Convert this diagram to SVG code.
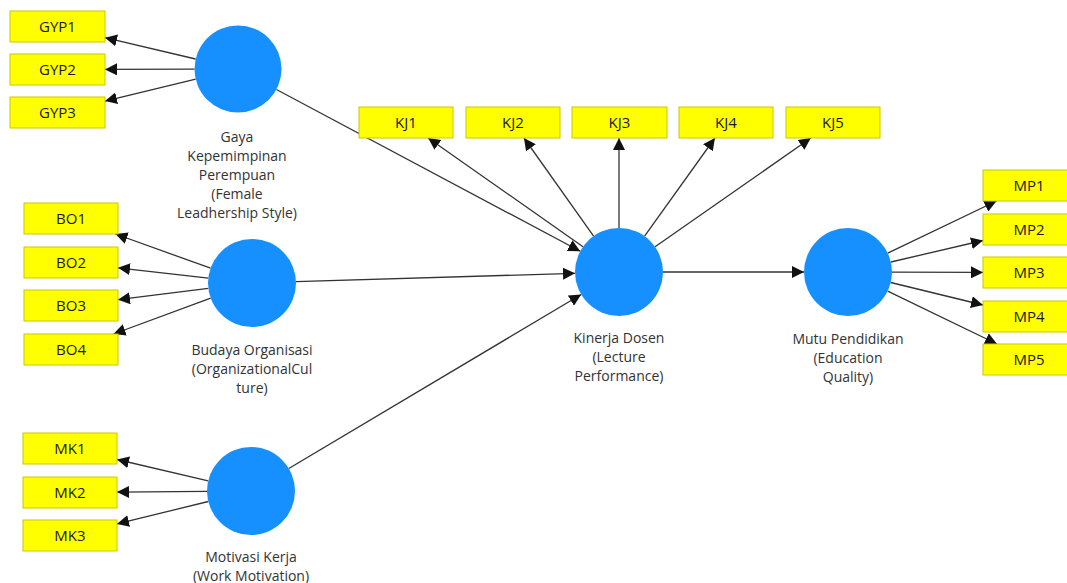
<svg xmlns="http://www.w3.org/2000/svg" width="1067" height="583" viewBox="0 0 1067 583">
<defs>
<style>
.ind rect{fill:#ffff00;stroke:#c9c900;stroke-width:1}
.ind text{font-family:"Open Sans","Liberation Sans",sans-serif;font-size:15px;fill:#1a1a1a;text-anchor:middle}
.lv circle{fill:#1690ff}
.lv text{font-family:"Open Sans","Liberation Sans",sans-serif;font-size:14px;fill:#333;text-anchor:middle}
#connectors line{stroke:#333;stroke-width:1.3;marker-end:url(#arr)}
</style>
<marker id="arr" markerUnits="userSpaceOnUse" markerWidth="12" markerHeight="12" refX="10" refY="5" orient="auto" viewBox="0 0 10 10">
<path d="M0,0 L10,5 L0,10 z" fill="#111"/>
</marker>
</defs>
<rect width="1067" height="583" fill="#ffffff"/>
<g id="connectors">
<line x1="195.6" y1="59.0" x2="105" y2="37.7"/>
<line x1="194.5" y1="69.1" x2="105" y2="69.4"/>
<line x1="195.7" y1="79.2" x2="105" y2="101.1"/>
<line x1="210.6" y1="268.2" x2="115.5" y2="234"/>
<line x1="208.3" y1="278.1" x2="118" y2="267.8"/>
<line x1="208.3" y1="288.4" x2="118" y2="299.7"/>
<line x1="210.7" y1="298.2" x2="113.5" y2="334"/>
<line x1="208.2" y1="480.9" x2="117" y2="459.5"/>
<line x1="207" y1="491.4" x2="117" y2="492.1"/>
<line x1="208.3" y1="501.5" x2="117" y2="523.9"/>
<line x1="583.0" y1="246.7" x2="428.1" y2="138"/>
<line x1="593.6" y1="236.1" x2="524.0" y2="138"/>
<line x1="619" y1="228" x2="619" y2="138"/>
<line x1="644.6" y1="236.2" x2="714.9" y2="138"/>
<line x1="655.1" y1="246.8" x2="810.8" y2="138"/>
<line x1="276.4" y1="89.5" x2="580.2" y2="251.3"/>
<line x1="296.0" y1="281.7" x2="575.0" y2="273.3"/>
<line x1="288.8" y1="468.5" x2="581.2" y2="294.5"/>
<line x1="663" y1="272" x2="804" y2="272"/>
<line x1="887.7" y1="253.1" x2="996.5" y2="201"/>
<line x1="890.9" y1="262.0" x2="983" y2="240.5"/>
<line x1="892" y1="272.1" x2="983" y2="272.4"/>
<line x1="890.7" y1="282.5" x2="983" y2="305.0"/>
<line x1="887.7" y1="291.1" x2="997" y2="344"/>
</g>
<g id="GYP1" class="ind"><rect x="10" y="11" width="95" height="31"/><text x="57.5" y="32">GYP1</text></g>
<g id="GYP2" class="ind"><rect x="10" y="54" width="95" height="31"/><text x="57.5" y="75">GYP2</text></g>
<g id="GYP3" class="ind"><rect x="10" y="97" width="95" height="31"/><text x="57.5" y="118">GYP3</text></g>
<g id="BO1" class="ind"><rect x="24" y="203" width="94" height="31"/><text x="71" y="224">BO1</text></g>
<g id="BO2" class="ind"><rect x="24" y="247" width="94" height="31"/><text x="71" y="268">BO2</text></g>
<g id="BO3" class="ind"><rect x="24" y="290" width="94" height="31"/><text x="71" y="311">BO3</text></g>
<g id="BO4" class="ind"><rect x="24" y="334" width="94" height="31"/><text x="71" y="355">BO4</text></g>
<g id="MK1" class="ind"><rect x="23" y="433" width="94" height="31"/><text x="70" y="454">MK1</text></g>
<g id="MK2" class="ind"><rect x="23" y="477" width="94" height="31"/><text x="70" y="498">MK2</text></g>
<g id="MK3" class="ind"><rect x="23" y="520" width="94" height="31"/><text x="70" y="541">MK3</text></g>
<g id="KJ1" class="ind"><rect x="359" y="107" width="94" height="31"/><text x="406" y="128">KJ1</text></g>
<g id="KJ2" class="ind"><rect x="466" y="107" width="94" height="31"/><text x="513" y="128">KJ2</text></g>
<g id="KJ3" class="ind"><rect x="572" y="107" width="95" height="31"/><text x="619.5" y="128">KJ3</text></g>
<g id="KJ4" class="ind"><rect x="679" y="107" width="94" height="31"/><text x="726" y="128">KJ4</text></g>
<g id="KJ5" class="ind"><rect x="786" y="107" width="94" height="31"/><text x="833" y="128">KJ5</text></g>
<g id="MP1" class="ind"><rect x="983" y="170" width="94" height="31"/><text x="1029" y="191">MP1</text></g>
<g id="MP2" class="ind"><rect x="983" y="214" width="94" height="31"/><text x="1029" y="235">MP2</text></g>
<g id="MP3" class="ind"><rect x="983" y="257" width="94" height="31"/><text x="1029" y="278">MP3</text></g>
<g id="MP4" class="ind"><rect x="983" y="301" width="94" height="31"/><text x="1029" y="322">MP4</text></g>
<g id="MP5" class="ind"><rect x="983" y="344" width="94" height="31"/><text x="1029" y="365">MP5</text></g>
<g id="GYP" class="lv"><circle cx="238" cy="69" r="43.5"/>
<text x="237" y="142">Gaya</text><text x="237" y="161">Kepemimpinan</text><text x="237" y="180">Perempuan</text><text x="237" y="199">(Female</text><text x="237" y="218">Leadhership Style)</text></g>
<g id="BO" class="lv"><circle cx="252" cy="283" r="44"/>
<text x="252" y="355">Budaya Organisasi</text><text x="252" y="374">(OrganizationalCul</text><text x="252" y="393">ture)</text></g>
<g id="MK" class="lv"><circle cx="251" cy="491" r="44"/>
<text x="251" y="562">Motivasi Kerja</text><text x="251" y="581">(Work Motivation)</text></g>
<g id="KJ" class="lv"><circle cx="619" cy="272" r="44"/>
<text x="619" y="343">Kinerja Dosen</text><text x="619" y="362">(Lecture</text><text x="619" y="381">Performance)</text></g>
<g id="MP" class="lv"><circle cx="848" cy="272" r="44"/>
<text x="848" y="344">Mutu Pendidikan</text><text x="848" y="363">(Education</text><text x="848" y="382">Quality)</text></g>
</svg>
